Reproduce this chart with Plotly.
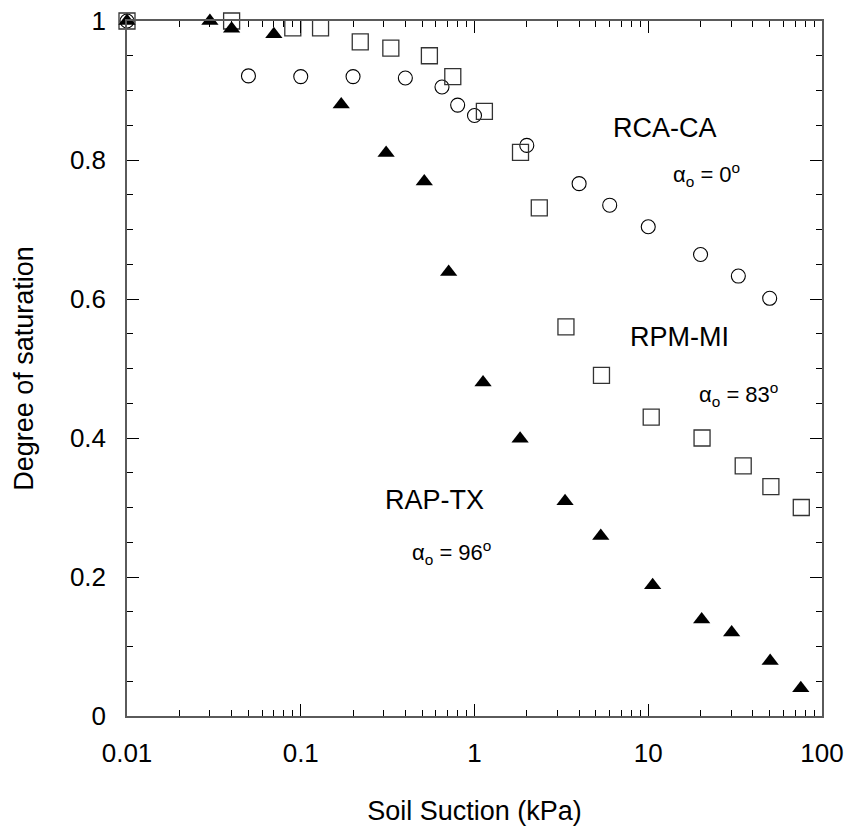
import plotly.graph_objects as go

# RCA-CA (open circles)
rca_x = [0.01, 0.05, 0.1, 0.2, 0.4, 0.65, 0.8, 1.0, 2.0, 4.0, 6.0, 10, 20, 33, 50]
rca_y = [1.0, 0.921, 0.92, 0.92, 0.918, 0.905, 0.879, 0.864, 0.821, 0.766, 0.735, 0.704, 0.664, 0.633, 0.601]

# RPM-MI (open squares)
rpm_x = [0.01, 0.04, 0.09, 0.13, 0.22, 0.33, 0.55, 0.75, 1.14, 1.84, 2.36, 3.36, 5.38, 10.4, 20.4, 35.2, 50.8, 76]
rpm_y = [1.0, 1.0, 0.99, 0.99, 0.970, 0.961, 0.95, 0.920, 0.870, 0.811, 0.731, 0.560, 0.490, 0.430, 0.400, 0.360, 0.330, 0.300]

# RAP-TX (filled triangles)
rap_x = [0.01, 0.03, 0.04, 0.07, 0.171, 0.31, 0.514, 0.71, 1.12, 1.83, 3.32, 5.33, 10.6, 20.3, 30.2, 50.3, 75.5]
rap_y = [1.0, 1.0, 0.989, 0.981, 0.880, 0.810, 0.769, 0.639, 0.480, 0.399, 0.309, 0.259, 0.188, 0.139, 0.120, 0.079, 0.040]

x_tickvals = [0.01, 0.1, 1, 10, 100]
x_ticktext = ["0.01", "0.1", "1", "10", "100"]
y_tickvals = [0, 0.2, 0.4, 0.6, 0.8, 1.0]
y_ticktext = ["0", "0.2", "0.4", "0.6", "0.8", "1"]

FONT = "Liberation Sans, Arial, sans-serif"
AXC = "#5a5a5a"

fig = go.Figure()
fig.add_trace(go.Scatter(x=rca_x, y=rca_y, mode="markers", name="RCA-CA", cliponaxis=False,
                         marker=dict(symbol="circle-open", size=14, color="black", line=dict(width=1.1, color="black"))))
fig.add_trace(go.Scatter(x=rpm_x, y=rpm_y, mode="markers", name="RPM-MI", cliponaxis=False,
                         marker=dict(symbol="square-open", size=16, color="#333333", line=dict(width=1.3, color="#333333"))))
fig.add_trace(go.Scatter(x=rap_x, y=rap_y, mode="markers", name="RAP-TX", cliponaxis=False,
                         marker=dict(symbol="triangle-up", size=15, color="black", line=dict(width=0))))

ann_font = dict(family=FONT, size=27, color="black")
alpha_font = dict(family=FONT, size=22, color="black")
annotations = [
    dict(x=1.095, y=0.846, text="RCA-CA", font=ann_font),
    dict(x=1.335, y=0.779, text="α<sub>o</sub> = 0<sup>o</sup>", font=alpha_font),
    dict(x=1.178, y=0.545, text="RPM-MI", font=ann_font),
    dict(x=1.518, y=0.463, text="α<sub>o</sub> = 83<sup>o</sup>", font=alpha_font),
    dict(x=-0.233, y=0.311, text="RAP-TX", font=ann_font),
    dict(x=-0.132, y=0.235, text="α<sub>o</sub> = 96<sup>o</sup>", font=alpha_font),
]
for a in annotations:
    a.update(xref="x", yref="y", showarrow=False, xanchor="center", yanchor="middle")

fig.update_layout(
    width=849, height=831,
    margin=dict(l=127, r=27, t=21, b=115),
    paper_bgcolor="white", plot_bgcolor="white",
    showlegend=False,
    font=dict(family=FONT, color="black"),
    annotations=annotations,
)
fig.update_xaxes(
    type="log", range=[-2, 2], automargin=False,
    tickvals=x_tickvals, ticktext=x_ticktext,
    ticks="inside", ticklen=12, tickwidth=1, tickcolor="black",
    showline=True, linecolor=AXC, linewidth=1.5, mirror="allticks",
    showgrid=False, zeroline=False,
    ticklabelstandoff=13,
    tickfont=dict(family=FONT, size=26, color="black"),
    minor=dict(ticks="inside", ticklen=6, tickwidth=1, tickcolor="black", dtick="D1", showgrid=False),
    title=dict(text="Soil Suction (kPa)", font=dict(family=FONT, size=27, color="black"), standoff=34),
)
fig.update_yaxes(
    range=[0, 1], automargin=False,
    tickvals=y_tickvals, ticktext=y_ticktext,
    ticks="inside", ticklen=12, tickwidth=1, tickcolor="black",
    showline=True, linecolor=AXC, linewidth=1.5, mirror="allticks",
    showgrid=False, zeroline=False,
    ticklabelstandoff=14,
    tickfont=dict(family=FONT, size=26, color="black"),
    minor=dict(ticks="inside", ticklen=6, tickwidth=1, tickcolor="black", dtick=0.05, showgrid=False),
    title=dict(text="Degree of saturation", font=dict(family=FONT, size=27, color="black"), standoff=28),
)

fig.write_html("out.html")
